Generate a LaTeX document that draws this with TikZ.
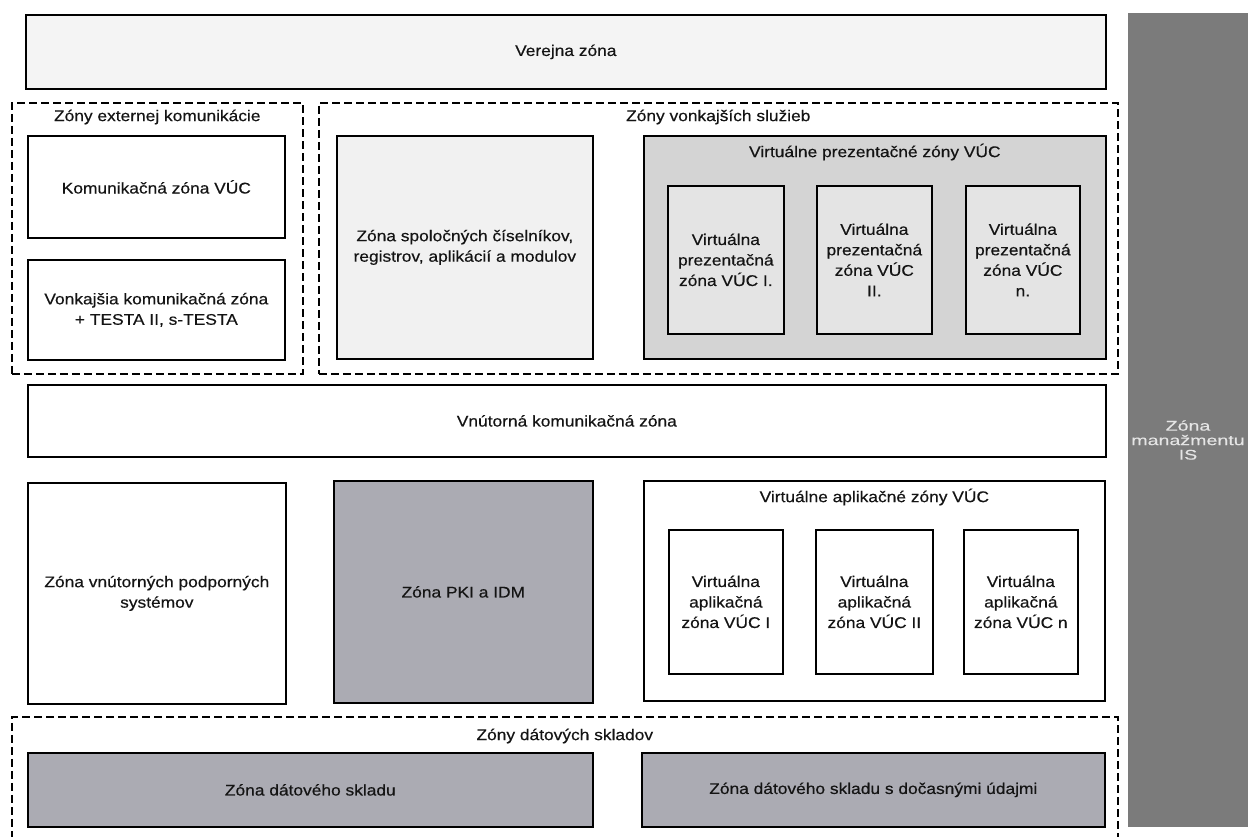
\documentclass[tikz,border=0pt]{standalone}
\usepackage{fontspec}
\setmainfont{Liberation Sans}
\newfontfamily\zonefam[FakeStretch=1.12, FakeBold=0.4]{Liberation Sans}
\newfontfamily\colfam[FakeStretch=1.4, FakeBold=0.3]{Liberation Sans}
\newcommand\zonefont{\zonefam\fontsize{15.5}{20.5}\selectfont}
\newcommand\colfont{\colfam\fontsize{14}{14.5}\selectfont}

\definecolor{txt}{HTML}{141414}
\definecolor{mgmt}{HTML}{7B7B7B}
\definecolor{midgray}{HTML}{ABABB3}
\definecolor{presgroup}{HTML}{D4D4D4}
\definecolor{presinner}{HTML}{E4E4E4}
\definecolor{paleshade}{HTML}{F1F1F1}
\definecolor{publicfill}{HTML}{F4F4F4}

% box from its top-left (x1,y1) to bottom-right (x2,y2), coordinates in px
\newcommand\zonebox[7]{%
  \node[#1, minimum width={(#5-#3)*1pt}, minimum height={(#6-#4)*1pt}] (#2) at (#3,#4) {#7};}

\tikzset{
  zone/.style={draw=black, line width=1.7pt, rectangle, anchor=north west,
    inner sep=2pt, align=center, font=\zonefont, text=txt},
  zonegroup/.style={draw=black, line width=1.6pt, dash pattern=on 8pt off 4pt,
    rectangle, anchor=north west, inner sep=0pt},
  grouptitle/.style={anchor=center, font=\zonefont, text=txt, inner sep=0pt},
}

\begin{document}
\begin{tikzpicture}[x=1pt, y=-1pt]
\useasboundingbox (0,0) rectangle (1248,836);
\clip (0,0) rectangle (1248,836);
\fill[white] (0,0) rectangle (1248,836);

% management column on the right
\zonebox{zone, draw=none, fill=mgmt}{mgmt}{1127}{12}{1252}{826}{}
\node[font=\colfont, text=white!90!black, align=center, inner sep=0pt] (mgmtlabel) at (1188,440)
  {Zóna\\manažmentu\\IS};

% public zone
\zonebox{zone, fill=publicfill}{public}{25}{14}{1105}{88}{Verejna zóna}

% external communication zones
\zonebox{zonegroup}{extgrp}{11}{102}{302}{373}{}
\node[grouptitle] (exttitle) at ([yshift=-15pt]extgrp.north) {Zóny externej komunikácie};
\zonebox{zone}{comvuc}{27}{135}{284}{237}{Komunikačná zóna VÚC}
\zonebox{zone}{extcom}{27}{259}{284}{359}{Vonkajšia komunikačná zóna\\+ TESTA II, s-TESTA}

% external services zones
\zonebox{zonegroup}{svcgrp}{318}{102}{1117}{373}{}
\node[grouptitle] (svctitle) at ([yshift=-15pt]svcgrp.north) {Zóny vonkajších služieb};
\zonebox{zone, fill=paleshade}{registers}{336}{135}{592}{358}{Zóna spoločných číselníkov,\\registrov, aplikácií a modulov}
\zonebox{zone, fill=presgroup}{presgrp}{643}{135}{1105}{358}{}
\node[grouptitle] (prestitle) at ([yshift=-17pt]presgrp.north) {Virtuálne prezentačné zóny VÚC};
\zonebox{zone, fill=presinner}{pres1}{667}{185}{783}{333}{Virtuálna\\prezentačná\\zóna VÚC I.}
\zonebox{zone, fill=presinner}{pres2}{816}{185}{931}{333}{Virtuálna\\prezentačná\\zóna VÚC\\II.}
\zonebox{zone, fill=presinner}{presn}{965}{185}{1079}{333}{Virtuálna\\prezentačná\\zóna VÚC\\n.}

% internal communication zone
\zonebox{zone}{intcom}{27}{384}{1105}{456}{Vnútorná komunikačná zóna}

% internal zones
\zonebox{zone}{support}{27}{482}{285}{703}{Zóna vnútorných podporných\\systémov}
\zonebox{zone, fill=midgray}{pki}{333}{480}{592}{702}{Zóna PKI a IDM}
\zonebox{zone}{appgrp}{643}{480}{1104}{700}{}
\node[grouptitle] (apptitle) at ([yshift=-17pt]appgrp.north) {Virtuálne aplikačné zóny VÚC};
\zonebox{zone}{app1}{668}{529}{782}{673}{Virtuálna\\aplikačná\\zóna VÚC I}
\zonebox{zone}{app2}{815}{529}{932}{673}{Virtuálna\\aplikačná\\zóna VÚC II}
\zonebox{zone}{appn}{963}{529}{1077}{673}{Virtuálna\\aplikačná\\zóna VÚC n}

% data warehouse zones
\zonebox{zonegroup}{dwgrp}{11}{716}{1117}{850}{}
\node[grouptitle] (dwtitle) at ([yshift=-20pt]dwgrp.north) {Zóny dátových skladov};
\zonebox{zone, fill=midgray}{dw}{27}{752}{592}{826}{Zóna dátového skladu}
\zonebox{zone, fill=midgray}{dwtemp}{641}{752}{1104}{826}{Zóna dátového skladu s dočasnými údajmi}
\end{tikzpicture}
\end{document}
